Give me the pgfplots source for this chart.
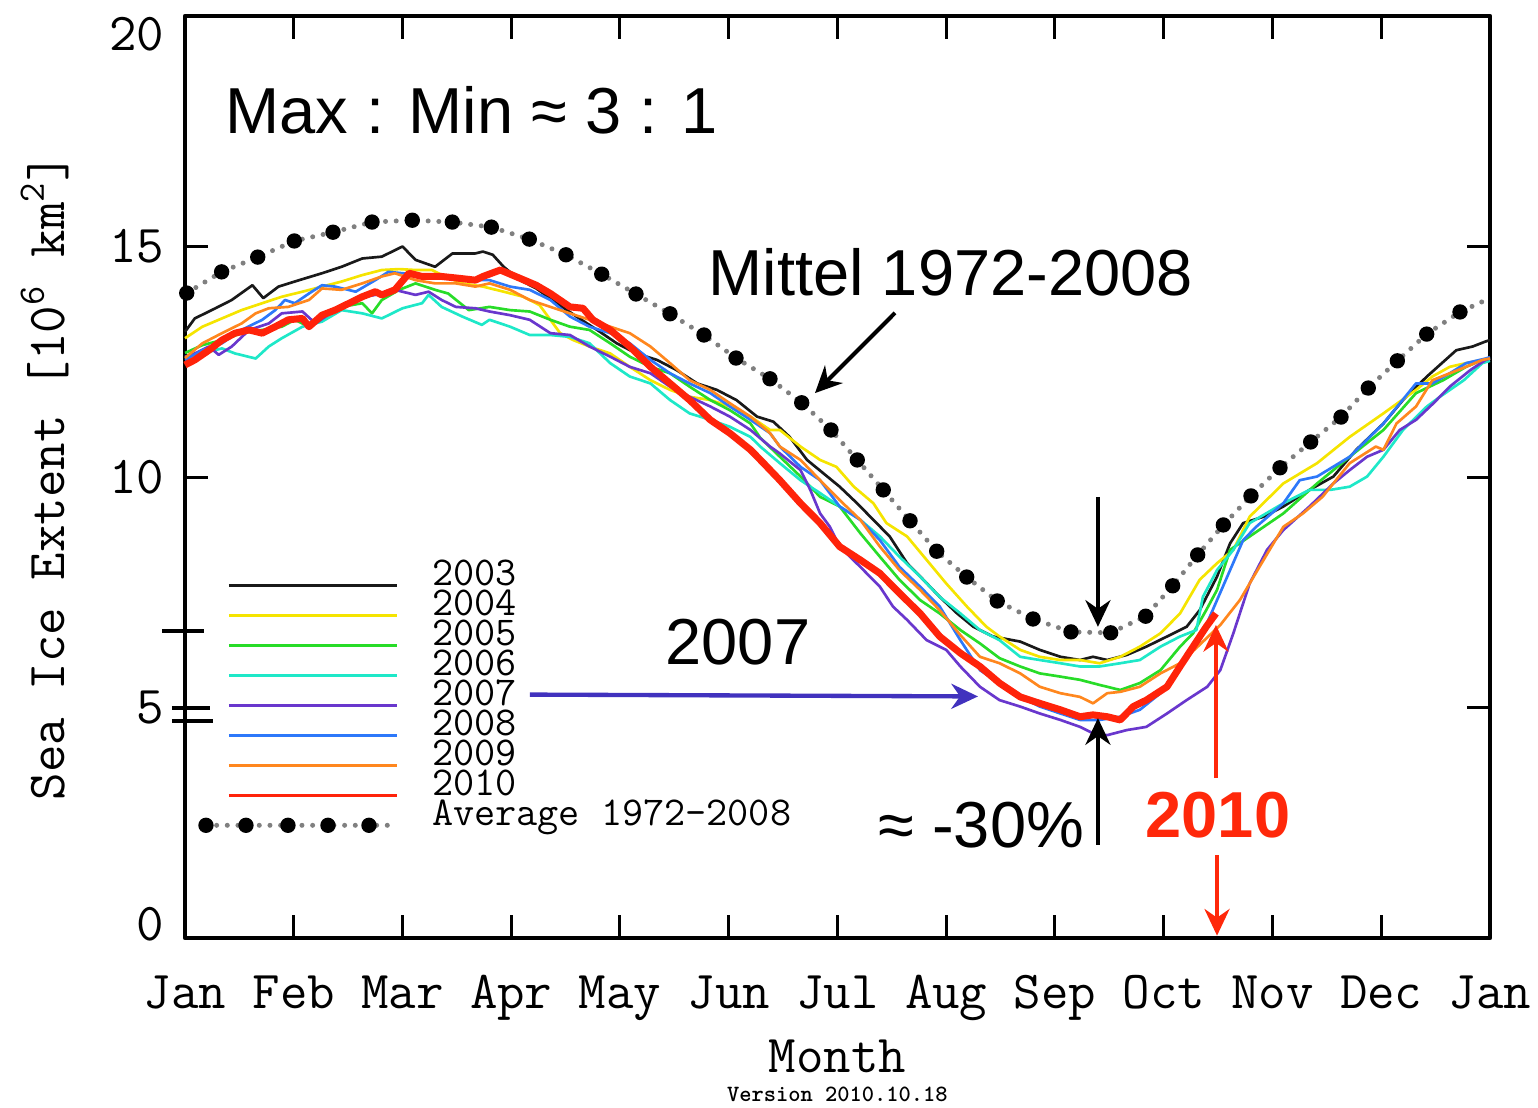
\documentclass[border=0pt]{standalone}
\usepackage{pgfplots}
\pgfplotsset{compat=1.18}
\usepackage{pgfplotstable}
\usepackage{fontspec}
\usetikzlibrary{arrows.meta}
\newfontfamily\helv{Liberation Sans}

\definecolor{c2003}{RGB}{25,25,25}
\definecolor{c2004}{RGB}{245,228,0}
\definecolor{c2005}{RGB}{40,220,40}
\definecolor{c2006}{RGB}{30,232,200}
\definecolor{c2007}{RGB}{105,55,205}
\definecolor{c2008}{RGB}{45,120,250}
\definecolor{c2009}{RGB}{255,135,30}
\definecolor{c2010}{RGB}{255,35,10}
\definecolor{arrowblue}{RGB}{65,50,190}
\definecolor{arrowred}{RGB}{255,40,10}

\pgfplotsset{
    yearleg/.style={legend image code/.code={
        \draw[##1] (0pt,-3pt) -- (50.4pt,-3pt);
        \path (60.6pt,0pt);
    }},
    avgleg/.style={legend image code/.code={
        \draw[gray, line width=1.5pt, dash pattern=on 0pt off 3.2pt, line cap=round]
            (-6.9pt,-3.5pt) -- (49pt,-3.5pt);
        \draw[only marks, mark=*, mark size=2.1pt, black]
            plot coordinates {(-6.9pt,-3.5pt) (5.1pt,-3.5pt) (17.7pt,-3.5pt) (29.7pt,-3.5pt) (42pt,-3.5pt)};
        \path (60.6pt,0pt);
    }},
}

% mean 1972-2008 (month, 10^6 km^2)
\pgfplotstableread{
m v
0.016 13.99
0.337 14.45
0.669 14.77
1.005 15.12
1.361 15.31
1.720 15.53
2.090 15.57
2.458 15.53
2.817 15.42
3.166 15.16
3.503 14.82
3.832 14.40
4.147 13.97
4.460 13.54
4.772 13.08
5.067 12.58
5.379 12.13
5.671 11.61
5.940 11.02
6.182 10.37
6.421 9.72
6.667 9.05
6.912 8.39
7.188 7.83
7.469 7.31
7.798 6.92
8.147 6.64
8.512 6.62
8.834 6.98
9.082 7.64
9.312 8.31
9.548 8.96
9.802 9.59
10.069 10.20
10.351 10.76
10.630 11.30
10.881 11.93
11.148 12.52
11.418 13.10
11.724 13.58
12.000 13.88
}\avgdata

\begin{document}
\begin{tikzpicture}
\begin{axis}[
    scale only axis,
    width=391.5pt, height=276.6pt,
    xmin=0, xmax=12, ymin=0, ymax=20,
    xtick={0,1,...,12},
    xticklabels={Jan,Feb,Mar,Apr,May,Jun,Jul,Aug,Sep,Oct,Nov,Dec,Jan},
    ytick={0,5,10,15,20},
    yticklabels={\raisebox{4.2pt}{0},5,10,15,\raisebox{-5.4pt}{20}},
    tick align=inside,
    major tick length=7pt,
    major tick style={black, line width=0.9pt},
    axis line style={line width=1.3pt},
    ticklabel style={font=\ttfamily\fontsize{16}{16}\selectfont},
    xticklabel style={anchor=north, inner sep=0pt, text height=9.8pt, text depth=0pt, yshift=-11.1pt},
    yticklabel style={anchor=east, inner sep=0pt, text height=9.8pt, text depth=0pt, xshift=-6pt},
    xlabel={Month},
    xlabel style={font=\ttfamily\fontsize{16}{16}\selectfont,
        at={([yshift=-40.2pt]axis description cs:0.5,0)}, anchor=base},
    ylabel={Sea Ice Extent [10\textsuperscript{6} km\textsuperscript{2}]},
    ylabel style={font=\ttfamily\fontsize{16}{16}\selectfont,
        at={([xshift=-42pt]axis description cs:0,0.5)}, anchor=center},
    clip=false,
    legend cell align=left,
    legend style={
        draw=none, fill=none, inner sep=0pt,
        at={(0.0102,0.41)}, anchor=north west,
        row sep=0pt,
        font=\ttfamily\fontsize{12.3}{12}\selectfont,
        nodes={inner sep=0pt, text height=7.5pt, text depth=1.5pt},
    },
    line join=round,
]
    % Legends
    \addlegendimage{yearleg, c2003, line width=0.8pt}
    \addlegendentry{2003}
    \addlegendimage{yearleg, c2004, line width=0.8pt}
    \addlegendentry{2004}
    \addlegendimage{yearleg, c2005, line width=0.8pt}
    \addlegendentry{2005}
    \addlegendimage{yearleg, c2006, line width=0.8pt}
    \addlegendentry{2006}
    \addlegendimage{yearleg, c2007, line width=0.8pt}
    \addlegendentry{2007}
    \addlegendimage{yearleg, c2008, line width=0.8pt}
    \addlegendentry{2008}
    \addlegendimage{yearleg, c2009, line width=0.8pt}
    \addlegendentry{2009}
    \addlegendimage{yearleg, c2010, line width=0.8pt}
    \addlegendentry{2010}
    \addlegendimage{avgleg}
    \addlegendentry[yshift=-0.6pt]{Average 1972-2008}

    % 2003
    \addplot[forget plot, no marks, draw=c2003, line width=0.8pt] coordinates {
        (0.00,13.15)(0.09,13.44)(0.28,13.66)(0.43,13.84)(0.62,14.16)(0.72,13.88)
        (0.86,14.13)(1.05,14.27)(1.26,14.42)(1.44,14.56)(1.63,14.74)(1.81,14.78)
        (2.00,15.00)(2.12,14.71)(2.30,14.56)(2.46,14.85)(2.67,14.85)(2.74,14.89)
        (2.83,14.82)(2.93,14.56)(3.08,14.27)(3.23,14.09)(3.42,13.77)(3.60,13.48)
        (3.79,13.19)(3.97,12.90)(4.15,12.68)(4.34,12.54)(4.52,12.32)(4.71,12.03)
        (4.89,11.89)(5.07,11.67)(5.26,11.31)(5.41,11.20)(5.56,10.87)(5.72,10.37)
        (5.87,10.08)(6.02,9.79)(6.18,9.43)(6.33,9.07)(6.48,8.71)(6.64,8.13)
        (6.79,7.77)(6.94,7.40)(7.10,7.04)(7.25,6.75)(7.43,6.54)(7.68,6.43)
        (7.86,6.25)(8.05,6.10)(8.23,6.03)(8.35,6.10)(8.48,6.03)(8.66,6.14)
        (8.84,6.32)(9.03,6.54)(9.21,6.75)(9.33,7.11)(9.49,7.84)(9.61,8.56)
        (9.73,9.00)(9.92,9.14)(10.10,9.36)(10.34,9.72)(10.56,10.01)(10.77,10.59)
        (11.02,11.16)(11.20,11.67)(11.42,12.18)(11.69,12.75)(11.84,12.83)(11.96,12.94)
        (12.00,12.97)
    };

    % 2004
    \addplot[forget plot, no marks, draw=c2004, line width=0.8pt] coordinates {
        (0.00,13.01)(0.16,13.26)(0.34,13.44)(0.52,13.62)(0.71,13.77)(0.89,13.91)
        (1.08,14.02)(1.26,14.13)(1.44,14.24)(1.63,14.38)(1.81,14.49)(1.97,14.51)
        (2.12,14.49)(2.27,14.49)(2.39,14.35)(2.55,14.20)(2.74,14.13)(2.93,14.02)
        (3.11,13.91)(3.26,13.73)(3.36,13.41)(3.45,13.12)(3.57,12.97)(3.72,12.83)
        (3.91,12.68)(4.09,12.39)(4.28,12.10)(4.46,11.89)(4.64,11.74)(4.83,11.67)
        (5.01,11.53)(5.20,11.31)(5.38,11.02)(5.47,11.02)(5.66,10.66)(5.84,10.37)
        (5.99,10.22)(6.15,9.79)(6.33,9.43)(6.45,9.00)(6.64,8.71)(6.82,8.20)
        (7.00,7.69)(7.19,7.19)(7.37,6.75)(7.49,6.54)(7.68,6.25)(7.86,6.10)
        (8.05,6.03)(8.23,6.03)(8.41,5.96)(8.60,6.10)(8.78,6.32)(8.97,6.61)
        (9.15,7.04)(9.33,7.77)(9.49,8.13)(9.64,8.42)(9.79,9.14)(10.10,9.86)
        (10.41,10.30)(10.71,10.87)(11.02,11.38)(11.32,11.89)(11.47,12.18)(11.63,12.39)
        (11.78,12.47)(11.93,12.54)(12.00,12.57)
    };

    % 2005
    \addplot[forget plot, no marks, draw=c2005, line width=0.8pt] coordinates {
        (0.00,12.69)(0.16,12.86)(0.34,12.97)(0.52,13.12)(0.71,13.19)(0.89,13.26)
        (1.01,13.41)(1.14,13.26)(1.26,13.55)(1.44,13.69)(1.63,13.77)(1.72,13.55)
        (1.81,13.84)(1.97,14.06)(2.12,14.20)(2.30,14.06)(2.42,13.98)(2.61,13.62)
        (2.80,13.69)(2.99,13.62)(3.17,13.59)(3.36,13.41)(3.54,13.26)(3.72,13.19)
        (3.91,12.90)(4.09,12.61)(4.28,12.39)(4.46,12.25)(4.64,11.96)(4.83,11.67)
        (5.01,11.45)(5.20,11.16)(5.29,10.85)(5.47,10.44)(5.66,10.01)(5.84,9.57)
        (6.02,9.36)(6.21,8.78)(6.39,8.27)(6.57,7.77)(6.76,7.33)(6.94,7.04)
        (7.13,6.68)(7.31,6.39)(7.49,6.07)(7.68,5.89)(7.86,5.74)(8.05,5.67)
        (8.23,5.60)(8.41,5.49)(8.60,5.38)(8.78,5.53)(8.97,5.81)(9.15,6.32)
        (9.27,6.61)(9.39,7.11)(9.49,7.55)(9.61,8.42)(9.79,8.71)(10.10,9.21)
        (10.41,9.86)(10.71,10.44)(11.02,11.02)(11.32,11.82)(11.57,12.10)(11.78,12.39)
        (11.93,12.54)(12.00,12.57)
    };

    % 2006
    \addplot[forget plot, no marks, draw=c2006, line width=0.8pt] coordinates {
        (0.00,12.61)(0.16,12.68)(0.34,12.79)(0.46,12.68)(0.65,12.57)(0.77,12.83)
        (0.89,13.01)(1.08,13.26)(1.26,13.37)(1.44,13.62)(1.63,13.55)(1.81,13.44)
        (2.00,13.66)(2.18,13.77)(2.24,13.95)(2.36,13.69)(2.55,13.48)(2.73,13.30)
        (2.80,13.41)(2.99,13.26)(3.17,13.08)(3.36,13.08)(3.54,13.04)(3.72,12.90)
        (3.91,12.47)(4.09,12.18)(4.28,12.03)(4.46,11.67)(4.64,11.38)(4.83,11.24)
        (5.01,11.09)(5.20,10.87)(5.29,10.66)(5.47,10.30)(5.66,9.93)(5.84,9.65)
        (6.02,9.36)(6.21,9.07)(6.39,8.71)(6.57,8.27)(6.76,7.84)(6.94,7.40)
        (7.13,7.04)(7.31,6.68)(7.49,6.46)(7.68,6.10)(7.86,6.03)(8.05,5.96)
        (8.23,5.89)(8.41,5.89)(8.60,5.96)(8.78,6.03)(8.97,6.32)(9.15,6.54)
        (9.30,6.68)(9.36,7.40)(9.49,7.98)(9.64,8.42)(9.79,9.00)(10.10,9.43)
        (10.34,9.72)(10.53,9.72)(10.71,9.79)(10.87,10.01)(11.02,10.44)(11.20,11.02)
        (11.42,11.53)(11.54,11.74)(11.76,12.10)(11.93,12.47)(12.00,12.52)
    };

    % 2007
    \addplot[forget plot, no marks, draw=c2007, line width=0.8pt] coordinates {
        (0.00,12.61)(0.09,12.68)(0.22,12.83)(0.31,12.65)(0.43,12.83)(0.59,13.19)
        (0.77,13.33)(0.89,13.55)(1.08,13.59)(1.20,13.33)(1.38,13.62)(1.57,13.88)
        (1.75,13.95)(1.93,14.06)(2.12,13.95)(2.24,14.02)(2.36,13.84)(2.49,13.69)
        (2.67,13.66)(2.80,13.59)(2.99,13.51)(3.17,13.41)(3.36,13.12)(3.54,13.08)
        (3.72,12.83)(3.91,12.61)(4.09,12.39)(4.28,12.25)(4.46,11.96)(4.64,11.74)
        (4.83,11.53)(5.01,11.31)(5.20,11.02)(5.38,10.66)(5.47,10.51)(5.66,10.15)
        (5.75,9.72)(5.84,9.21)(5.93,8.92)(6.02,8.49)(6.21,8.05)(6.39,7.62)
        (6.51,7.19)(6.64,6.90)(6.82,6.46)(7.00,6.25)(7.13,5.89)(7.31,5.45)
        (7.49,5.16)(7.68,5.02)(7.86,4.87)(8.05,4.73)(8.23,4.58)(8.35,4.44)
        (8.48,4.40)(8.66,4.51)(8.84,4.58)(9.03,4.87)(9.21,5.16)(9.40,5.45)
        (9.52,5.81)(9.64,6.61)(9.79,7.69)(9.95,8.42)(10.10,8.85)(10.34,9.36)
        (10.56,9.86)(10.71,10.15)(10.87,10.44)(11.02,10.59)(11.17,11.02)(11.32,11.24)
        (11.48,11.60)(11.63,11.96)(11.82,12.32)(11.96,12.54)(12.00,12.57)
    };

    % 2008
    \addplot[forget plot, no marks, draw=c2008, line width=0.8pt] coordinates {
        (0.00,12.54)(0.16,12.75)(0.34,12.90)(0.52,13.19)(0.71,13.41)(0.83,13.62)
        (0.92,13.84)(1.01,13.77)(1.14,13.98)(1.26,14.16)(1.38,14.13)(1.57,14.02)
        (1.75,14.27)(1.87,14.45)(2.00,14.42)(2.18,14.38)(2.36,14.35)(2.55,14.27)
        (2.80,14.27)(2.99,14.13)(3.17,14.06)(3.36,13.84)(3.54,13.48)(3.72,13.26)
        (3.91,13.12)(4.09,12.90)(4.28,12.54)(4.46,12.25)(4.64,12.03)(4.83,11.82)
        (5.01,11.53)(5.20,11.24)(5.38,10.95)(5.47,10.66)(5.66,10.22)(5.84,9.93)
        (6.02,9.36)(6.21,9.07)(6.39,8.63)(6.57,8.05)(6.76,7.62)(6.94,7.19)
        (7.13,6.46)(7.31,5.81)(7.49,5.53)(7.68,5.23)(7.86,5.02)(8.05,4.87)
        (8.23,4.73)(8.41,4.73)(8.60,4.80)(8.78,4.95)(8.97,5.31)(9.15,5.89)
        (9.33,6.46)(9.49,7.33)(9.61,7.98)(9.73,8.63)(9.85,8.92)(10.10,9.43)
        (10.25,9.93)(10.41,10.01)(10.71,10.44)(11.02,11.16)(11.32,12.03)(11.47,12.03)
        (11.63,12.25)(11.78,12.47)(11.96,12.57)(12.00,12.60)
    };

    % 2009
    \addplot[forget plot, no marks, draw=c2009, line width=0.8pt] coordinates {
        (0.00,12.58)(0.16,12.90)(0.34,13.12)(0.52,13.33)(0.65,13.55)(0.77,13.66)
        (0.95,13.69)(1.14,13.84)(1.26,14.09)(1.44,14.06)(1.63,14.20)(1.81,14.35)
        (1.93,14.42)(2.12,14.27)(2.30,14.20)(2.49,14.20)(2.67,14.13)(2.80,14.20)
        (2.99,14.06)(3.17,13.84)(3.36,13.69)(3.54,13.55)(3.72,13.41)(3.91,13.26)
        (4.09,13.12)(4.28,12.83)(4.46,12.47)(4.64,12.10)(4.83,11.89)(5.01,11.60)
        (5.20,11.31)(5.38,10.95)(5.47,10.66)(5.66,10.37)(5.84,9.93)(6.02,9.50)
        (6.21,9.07)(6.39,8.49)(6.57,7.98)(6.76,7.55)(6.94,7.11)(7.13,6.57)
        (7.31,6.10)(7.49,5.96)(7.68,5.74)(7.86,5.45)(8.05,5.31)(8.23,5.23)
        (8.35,5.09)(8.48,5.31)(8.60,5.34)(8.78,5.45)(8.97,5.74)(9.15,5.96)
        (9.33,6.36)(9.52,6.79)(9.70,7.33)(9.89,8.09)(10.10,8.92)(10.28,9.21)
        (10.46,9.57)(10.71,10.30)(10.95,10.66)(11.02,10.59)(11.14,11.16)(11.32,11.53)
        (11.47,12.10)(11.63,12.25)(11.78,12.39)(11.93,12.54)(12.00,12.57)
    };

    % mean 1972-2008
    \addplot[forget plot, no marks, draw=gray, line width=1.5pt,
        dash pattern=on 0pt off 3.2pt, line cap=round] table {\avgdata};
    \addplot[forget plot, only marks, mark=*, mark size=2.1pt, black,
        restrict x to domain=0:11.9] table {\avgdata};

    % 2010
    \addplot[forget plot, no marks, draw=c2010, line width=2.1pt] coordinates {
        (0.00,12.43)(0.09,12.54)(0.22,12.75)(0.34,12.97)(0.46,13.12)(0.59,13.19)
        (0.71,13.12)(0.83,13.26)(0.95,13.41)(1.08,13.44)(1.14,13.26)(1.26,13.51)
        (1.38,13.62)(1.51,13.77)(1.63,13.91)(1.75,14.02)(1.81,13.95)(1.93,14.06)
        (2.06,14.42)(2.18,14.35)(2.36,14.35)(2.52,14.31)(2.67,14.27)(2.74,14.35)
        (2.90,14.49)(3.08,14.31)(3.23,14.16)(3.36,13.98)(3.54,13.69)(3.66,13.66)
        (3.75,13.41)(3.91,13.19)(4.09,12.83)(4.28,12.39)(4.46,12.03)(4.64,11.67)
        (4.83,11.24)(5.01,10.95)(5.20,10.59)(5.32,10.30)(5.47,9.93)(5.66,9.43)
        (5.84,9.00)(6.02,8.49)(6.21,8.20)(6.39,7.91)(6.57,7.48)(6.76,7.04)
        (6.94,6.54)(7.13,6.18)(7.31,5.89)(7.49,5.53)(7.68,5.23)(7.86,5.09)
        (8.05,4.95)(8.23,4.80)(8.35,4.84)(8.48,4.80)(8.60,4.73)(8.72,5.02)
        (8.84,5.16)(9.03,5.45)(9.15,5.89)(9.27,6.32)(9.39,6.75)(9.48,7.04)
    };

    % annotations
    \node[font=\helv\fontsize{19.5}{19.5}\selectfont, anchor=base west, inner sep=0pt]
        at (axis cs:0.368,17.46) {Max : Min ≈ 3 : 1};
    \node[font=\helv\fontsize{19.5}{19.5}\selectfont, anchor=base west, inner sep=0pt]
        at (axis cs:4.809,13.93) {Mittel 1972-2008};
    \node[font=\helv\fontsize{19.5}{19.5}\selectfont, anchor=base west, inner sep=0pt]
        at (axis cs:4.414,5.94) {2007};
    \node[font=\helv\fontsize{19.5}{19.5}\selectfont, anchor=base west, inner sep=0pt]
        at (axis cs:6.372,1.96) {≈ -30\%};
    \node[font=\helv\bfseries\fontsize{19.5}{19.5}\selectfont, text=arrowred,
        anchor=base west, inner sep=0pt]
        at (axis cs:8.827,2.17) {2010};

    \draw[-{Stealth[length=8pt,width=7.5pt]}, line width=1.2pt]
        (axis cs:6.529,13.56) -- (axis cs:5.793,11.82);
    \draw[-{Stealth[length=8pt,width=7.5pt]}, line width=1.3pt, arrowblue]
        (axis cs:3.172,5.28) -- (axis cs:7.292,5.24);
    \draw[-{Stealth[length=8pt,width=7.5pt]}, line width=1.2pt]
        (axis cs:8.395,9.57) -- (axis cs:8.395,6.75);
    \draw[-{Stealth[length=8pt,width=7.5pt]}, line width=1.2pt]
        (axis cs:8.395,2.02) -- (axis cs:8.395,4.77);
    \draw[-{Stealth[length=8pt,width=7.5pt]}, line width=1.2pt, arrowred]
        (axis cs:9.48,3.47) -- (axis cs:9.48,6.79);
    \draw[-{Stealth[length=8pt,width=7.5pt]}, line width=1.2pt, arrowred]
        (axis cs:9.49,1.80) -- (axis cs:9.49,0.05);

    % marks on the left axis
    \draw[line width=1pt] (axis cs:-0.21,6.66) -- (axis cs:0.175,6.66);
    \draw[line width=1pt] (axis cs:-0.12,4.99) -- (axis cs:0.23,4.99);
    \draw[line width=1pt] (axis cs:-0.12,4.71) -- (axis cs:0.26,4.71);

    \node[font=\ttfamily\bfseries\fontsize{7}{7}\selectfont, anchor=base, inner sep=0pt]
        at ([yshift=-48.9pt]axis description cs:0.5,0) {Version 2010.10.18};
\end{axis}
\pgfresetboundingbox
\path (current axis.south west) ++(-55.5pt,-51pt) rectangle ++(461.4pt,332.4pt);
\end{tikzpicture}
\end{document}
